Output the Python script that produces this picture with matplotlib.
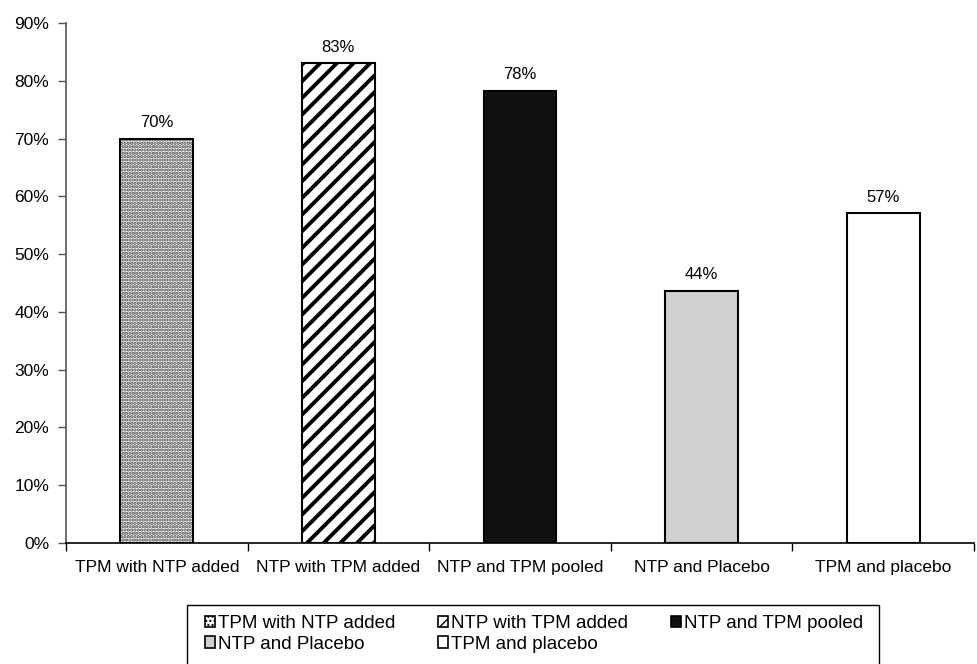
import matplotlib as mpl
from matplotlib import pyplot as plt, patches
import numpy as np

plt.rcParams['font.family'] = ['Liberation Sans', 'DejaVu Sans']

categories = ['TPM with NTP added', 'NTP with TPM added', 'NTP and TPM pooled',
              'NTP and Placebo', 'TPM and placebo']
values = [70.0, 83.0, 78.3, 43.7, 57.1]
value_labels = ['70%', '83%', '78%', '44%', '57%']
y_ticks = np.arange(0, 91, 10)

fills = ['white', 'white', '#111111', '#d0d0d0', 'white']
hatches = ['.....', '//', None, None, None]
hatch_lw = [1.6, 2.8, 1.0, 1.0, 1.0]
hatch_cols = ['#3a3a3a', 'black', 'black', 'black', 'black']

fig = plt.figure(figsize=(9.77, 6.64), dpi=100)
ax = fig.add_axes([66/977, 1-543/664, (974-66)/977, (543-23)/664])

x = np.arange(len(categories))
handles = []
for i in range(len(categories)):
    with mpl.rc_context({'hatch.linewidth': hatch_lw[i]}):
        ax.bar(x[i], values[i], width=0.4, color=fills[i], edgecolor=hatch_cols[i],
               hatch=hatches[i], linewidth=0, zorder=2)
        ax.bar(x[i], values[i], width=0.4, fill=False, edgecolor='black',
               linewidth=1.5, zorder=3)
        h = patches.Patch(facecolor=fills[i], edgecolor='black', linewidth=1.2,
                          hatch=hatches[i] if i != 0 else '....', label=categories[i])
    handles.append(h)
    ax.annotate(value_labels[i], xy=(x[i], values[i]), xytext=(0, 6),
                textcoords='offset points', ha='center', va='bottom', fontsize=12)

ax.set_xlim(-0.5, len(categories) - 0.5)
ax.set_ylim(0, 90)
ax.set_yticks(y_ticks)
ax.set_yticklabels([f'{v}%' for v in y_ticks], fontsize=12.5)
ax.set_xticks(x)
ax.set_xticklabels(categories, fontsize=12.5)
ax.set_xticks(np.arange(-0.5, len(categories)), minor=True)
ax.tick_params(axis='x', which='major', length=0, pad=12)
ax.tick_params(axis='x', which='minor', length=6, width=1, color='black', direction='out')
ax.tick_params(axis='y', length=6, width=1, color='#555555', pad=6)

for s in ['top', 'right']:
    ax.spines[s].set_visible(False)
ax.spines['left'].set_color('#555555')
ax.spines['left'].set_linewidth(1.2)
ax.spines['bottom'].set_color('black')
ax.spines['bottom'].set_linewidth(1.2)

# legend box drawn separately, it runs off the bottom edge
frame = patches.Rectangle((187/977, -0.02), (879-187)/977, 0.02 + 1-605/664,
                          transform=fig.transFigure, fill=False,
                          edgecolor='black', linewidth=1.0)
fig.patches.append(frame)

order = [0, 3, 1, 4, 2]
leg = fig.legend([handles[i] for i in order], [categories[i] for i in order],
                 ncol=3, loc='upper left', bbox_to_anchor=(205/977, 1-615/664),
                 borderaxespad=0, borderpad=0, fontsize=13.5, frameon=False,
                 handlelength=0.55, handleheight=0.55,
                 handletextpad=0.15, columnspacing=2.27, labelspacing=0.2)

fig.savefig('out.png', dpi=100)
